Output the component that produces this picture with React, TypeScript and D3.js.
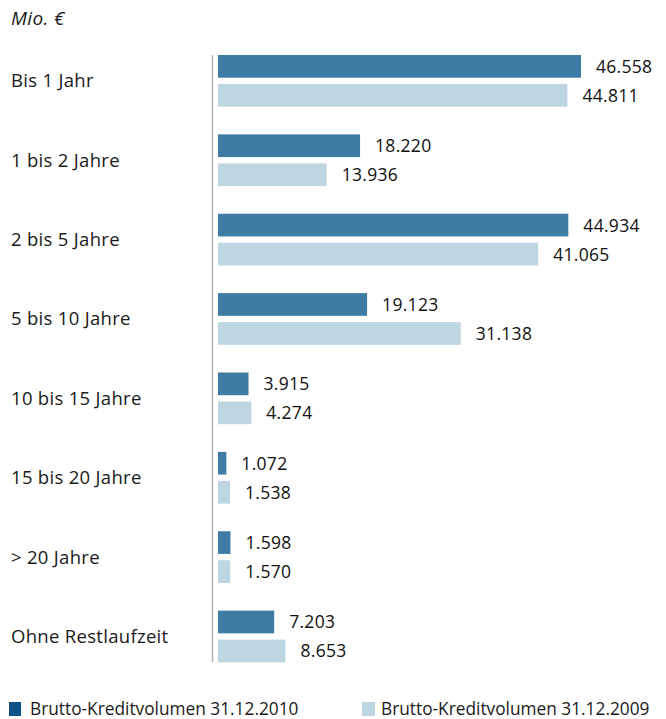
import React from "react";
import * as d3 from "d3";

const categories = ["Bis 1 Jahr", "1 bis 2 Jahre", "2 bis 5 Jahre", "5 bis 10 Jahre", "10 bis 15 Jahre", "15 bis 20 Jahre", "> 20 Jahre", "Ohne Restlaufzeit"];
const values2010 = [46558, 18220, 44934, 19123, 3915, 1072, 1598, 7203];
const values2009 = [44811, 13936, 41065, 31138, 4274, 1538, 1570, 8653];
const labels2010 = ["46.558", "18.220", "44.934", "19.123", "3.915", "1.072", "1.598", "7.203"];
const labels2009 = ["44.811", "13.936", "41.065", "31.138", "4.274", "1.538", "1.570", "8.653"];
const seriesNames = ["Brutto-Kreditvolumen 31.12.2010", "Brutto-Kreditvolumen 31.12.2009"];
const unitLabel = "Mio. €";

export default function App() {
  const W = 666, H = 719;
  const x0 = 218;
  const x = d3.scaleLinear().domain([0, 46558]).range([x0, 581]);
  const y = d3.scaleBand().domain(categories).range([52, 687]).paddingInner(0).paddingOuter(0);
  const barH = 22.7;
  const gap = 6.3;
  const groupOffset = 3;
  const dark = "#3f7ca5";
  const light = "#bed5e2";
  const legendDark = "#0f5288";
  const font = "'Open Sans', 'Noto Sans', sans-serif";
  return (
    <svg width={W} height={H} style={{ position: "absolute", left: 0, top: 0, background: "#fff" }}>
      <text x={11} y={25} fontFamily={font} fontStyle="italic" fontSize={19} letterSpacing={0.4} fill="#1a1a1a">{unitLabel}</text>
      <line x1={212.5} x2={212.5} y1={55} y2={662} stroke="#aaaaaa" strokeWidth={1.3} />
      {categories.map((c, i) => {
        const top = (y(c) as number) + groupOffset;
        const cy = top + barH + gap / 2;
        const w1 = x(values2010[i]) - x0;
        const w2 = x(values2009[i]) - x0;
        return (
          <g key={c}>
            <text x={11} y={cy + 6.5} fontFamily={font} fontSize={18.5} letterSpacing={0.3} fill="#1a1a1a">{c}</text>
            <rect x={x0} y={top} width={w1} height={barH} fill={dark} />
            <rect x={x0} y={top + barH + gap} width={w2} height={barH} fill={light} />
            <text x={x0 + w1 + 15} y={top + barH / 2 + 6.5} fontFamily={font} fontSize={17.5} letterSpacing={0.3} fill="#111">{labels2010[i]}</text>
            <text x={x0 + w2 + 15} y={top + barH + gap + barH / 2 + 6.5} fontFamily={font} fontSize={17.5} letterSpacing={0.3} fill="#111">{labels2009[i]}</text>
          </g>
        );
      })}
      <rect x={9} y={702} width={12} height={14} fill={legendDark} />
      <text x={30} y={715} fontFamily={font} fontSize={17.3} fill="#1a1a1a">{seriesNames[0]}</text>
      <rect x={362} y={702} width={13} height={14} fill={light} />
      <text x={381} y={715} fontFamily={font} fontSize={17.3} fill="#1a1a1a">{seriesNames[1]}</text>
    </svg>
  );
}
